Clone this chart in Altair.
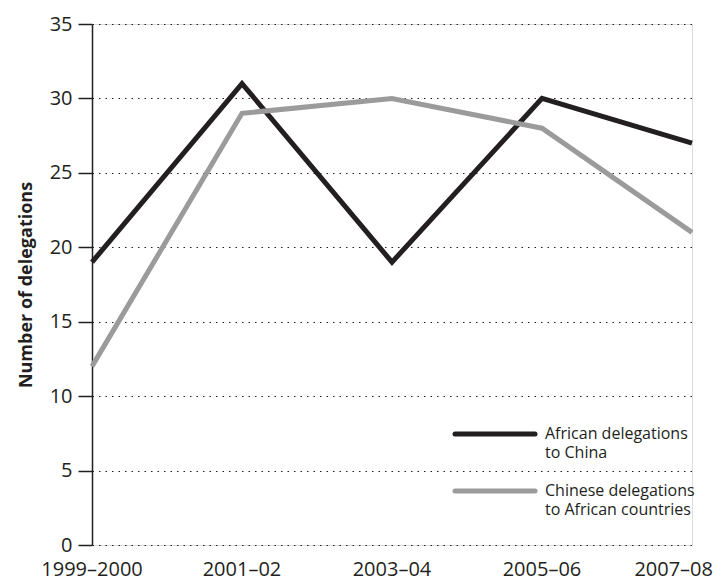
import altair as alt
import pandas as pd

periods = ["1999–2000", "2001–02", "2003–04", "2005–06", "2007–08"]
african_to_china = [19, 31, 19, 30, 27]
chinese_to_africa = [12, 29, 30, 28, 21]
series_names = ["African delegations to China", "Chinese delegations to African countries"]
series_colors = ["#231f20", "#9b9b9b"]

rows = []
for p, a, c in zip(periods, african_to_china, chinese_to_africa):
    rows.append({"period": p, "value": a, "series": series_names[0]})
    rows.append({"period": p, "value": c, "series": series_names[1]})
df = pd.DataFrame(rows)
lab_df = pd.DataFrame({"period": periods, "last": [p == periods[-1] for p in periods]})

FONT = "Open Sans"
INK = "#231f20"

xscale = alt.Scale(type="point", padding=0, domain=periods)
x = alt.X("period:N", sort=periods, scale=xscale,
          axis=alt.Axis(title=None, labels=False, ticks=True, tickSize=9, tickColor=INK,
                        tickWidth=1.5, domainColor=INK, domainWidth=1.5, grid=False))
y = alt.Y("value:Q", scale=alt.Scale(domain=[0, 35], nice=False),
          axis=alt.Axis(title="Number of delegations", values=[0, 5, 10, 15, 20, 25, 30, 35],
                        titleFontSize=18, titleFont=FONT, titleFontWeight="bold", titleColor=INK,
                        titlePadding=14, labelFontSize=20, labelFont=FONT, labelColor=INK,
                        tickSize=14, tickColor=INK, tickWidth=1.5, domainColor=INK,
                        domainWidth=1.5, labelPadding=6, grid=True, gridDash=[1.5, 5],
                        gridColor=INK, gridWidth=1.2, labelOverlap=False))

lines = alt.Chart(df).mark_line(strokeWidth=5, strokeCap="butt", strokeJoin="miter").encode(
    x=x, y=y,
    color=alt.Color("series:N", scale=alt.Scale(domain=series_names, range=series_colors), legend=None),
    detail="series:N",
)

xl = alt.X("period:N", sort=periods, scale=xscale, axis=None)
xlabels = alt.Chart(lab_df).transform_filter("!datum.last").mark_text(
    fontSize=20, font=FONT, color=INK, baseline="middle", align="center").encode(
    x=xl, y=alt.value(546), text="period:N")
xlabel_last = alt.Chart(lab_df).transform_filter("datum.last").mark_text(
    fontSize=20, font=FONT, color=INK, baseline="middle", align="right", dx=21).encode(
    x=xl, y=alt.value(546), text="period:N")

leg_df = pd.DataFrame({"series": series_names,
                       "line1": ["African delegations", "Chinese delegations"],
                       "line2": ["to China", "to African countries"],
                       "ypos": [410, 467]})

leg_lines = alt.Chart(leg_df).mark_rule(strokeWidth=5, strokeCap="round").encode(
    x=alt.value(363), x2=alt.value(443), y=alt.Y("ypos:Q", scale=None),
    color=alt.Color("series:N", scale=alt.Scale(domain=series_names, range=series_colors), legend=None),
)
leg_t1 = alt.Chart(leg_df).mark_text(align="left", baseline="middle", fontSize=16, font=FONT,
                                     color=INK).encode(
    x=alt.value(453), y=alt.Y("ypos:Q", scale=None), text="line1:N")
leg_t2 = alt.Chart(leg_df).mark_text(align="left", baseline="middle", fontSize=16, font=FONT,
                                     color=INK, dy=19).encode(
    x=alt.value(453), y=alt.Y("ypos:Q", scale=None), text="line2:N")

chart = alt.layer(lines, xlabels, xlabel_last, leg_lines, leg_t1, leg_t2).properties(
    width=600, height=521,
    autosize=alt.AutoSizeParams(type="none"),
    padding={"left": 84, "top": 16, "right": 23, "bottom": 37},
).configure_view(stroke=None).configure(background="white")

chart.save("out.html", embed_options={"renderer": "svg", "actions": False})
